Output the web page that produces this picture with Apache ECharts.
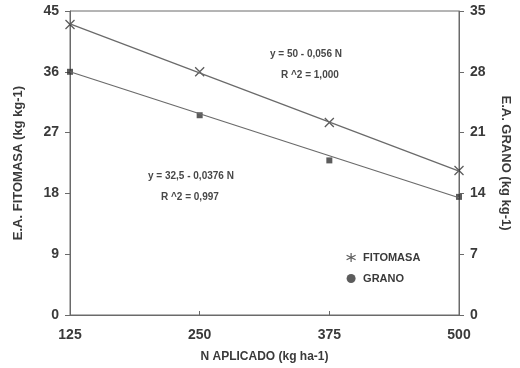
<!DOCTYPE html>
<html>
<head>
<meta charset="utf-8">
<script src="https://cdn.jsdelivr.net/npm/echarts@6/dist/echarts.min.js"></script>
<style>
  html, body { margin: 0; padding: 0; background: #fff; }
  #chart { width: 520px; height: 368px; }
</style>
</head>
<body>
<div id="chart"></div>
<script>
// Nitrogen rates applied (kg ha-1)
const nRates = [125, 250, 375, 500];
// Agronomic efficiency, biomass (kg kg-1), left axis
const fitomasa = [43.0, 36.0, 28.5, 21.4];
// Agronomic efficiency, grain (kg kg-1), right axis
const grano = [28.0, 23.0, 17.8, 13.6];
// Fitted regression lines at the ends of the N range
const fitFitomasa = [43.1, 21.3];
const fitGrano = [28.0, 13.5];
const fitEnds = [125, 500];

const leftTicks = { min: 0, max: 45, interval: 9 };
const rightTicks = { min: 0, max: 35, interval: 7 };

const xMark = 'path://M0,0L10,10M10,0L0,10';
const starMark = 'path://M5,0L5,10M0,2.5L10,7.5M0,7.5L10,2.5';

const pairs = (xs, ys) => xs.map((x, i) => [x, ys[i]]);

const FONT = 'Liberation Sans, Arial, sans-serif';
const labelFont = { color: '#3a3a3a', fontFamily: FONT, fontWeight: 'bold' };
const noteStyle = (text) => ({ text, fontSize: 10, fill: '#484848', fontFamily: FONT, fontWeight: 'bold' });

const chart = echarts.init(document.getElementById('chart'));
chart.setOption({
  backgroundColor: '#fff',
  animation: false,
  grid: { left: 70, right: 58, top: 11, bottom: 53, show: true, borderColor: '#6a6a6a', borderWidth: 1 },
  xAxis: {
    type: 'value', min: 125, max: 500, interval: 125,
    name: 'N APLICADO (kg ha-1)', nameLocation: 'middle', nameGap: 36,
    nameTextStyle: Object.assign({ fontSize: 12 }, labelFont),
    axisLine: { lineStyle: { color: '#6a6a6a' } },
    axisTick: { inside: true, length: 4, lineStyle: { color: '#6a6a6a' } },
    axisLabel: Object.assign({ fontSize: 14, margin: 13 }, labelFont),
    splitLine: { show: false }
  },
  yAxis: [
    Object.assign({
      type: 'value', position: 'left',
      name: 'E.A. FITOMASA (kg kg-1)', nameLocation: 'middle', nameGap: 45, nameRotate: 90,
      nameTextStyle: Object.assign({ fontSize: 13 }, labelFont),
      axisLine: { show: true, lineStyle: { color: '#6a6a6a' } },
      axisTick: { show: true, length: 5, lineStyle: { color: '#6a6a6a' } },
      axisLabel: Object.assign({ fontSize: 14, margin: 11 }, labelFont),
      splitLine: { show: false }
    }, leftTicks),
    Object.assign({
      type: 'value', position: 'right',
      name: 'E.A. GRANO (kg kg-1)', nameLocation: 'middle', nameGap: 40, nameRotate: -90,
      nameTextStyle: Object.assign({ fontSize: 13 }, labelFont),
      axisLine: { show: true, lineStyle: { color: '#6a6a6a' } },
      axisTick: { show: true, length: 5, lineStyle: { color: '#6a6a6a' } },
      axisLabel: Object.assign({ fontSize: 14, margin: 11 }, labelFont),
      splitLine: { show: false }
    }, rightTicks)
  ],
  legend: {
    orient: 'vertical', left: 341, top: 247, itemGap: 10, itemWidth: 10, itemHeight: 9,
    textStyle: Object.assign({ fontSize: 11, padding: [0, 0, 0, 2] }, labelFont),
    data: [
      { name: 'FITOMASA', icon: starMark, itemStyle: { color: 'transparent', borderColor: '#333', borderWidth: 1.2 } },
      { name: 'GRANO', icon: 'circle', itemStyle: { color: '#333' } }
    ]
  },
  series: [
    {
      type: 'line', yAxisIndex: 0, data: pairs(fitEnds, fitFitomasa), showSymbol: false,
      lineStyle: { color: '#6a6a6a', width: 1.2 }, silent: true
    },
    {
      name: 'FITOMASA', type: 'scatter', yAxisIndex: 0, data: pairs(nRates, fitomasa),
      symbol: xMark, symbolSize: 9,
      itemStyle: { color: 'transparent', borderColor: '#333', borderWidth: 1.3 }
    },
    {
      type: 'line', yAxisIndex: 1, data: pairs(fitEnds, fitGrano), showSymbol: false,
      lineStyle: { color: '#6a6a6a', width: 1.2 }, silent: true
    },
    {
      name: 'GRANO', type: 'scatter', yAxisIndex: 1, data: pairs(nRates, grano),
      symbol: 'rect', symbolSize: 6, itemStyle: { color: '#333' }
    }
  ],
  graphic: [
    { type: 'text', left: 270, top: 49, style: noteStyle('y = 50 - 0,056 N') },
    { type: 'text', left: 281, top: 70, style: noteStyle('R ^2 = 1,000') },
    { type: 'text', left: 148, top: 171, style: noteStyle('y = 32,5 - 0,0376 N') },
    { type: 'text', left: 161, top: 192, style: noteStyle('R ^2 = 0,997') }
  ]
});
</script>
</body>
</html>
